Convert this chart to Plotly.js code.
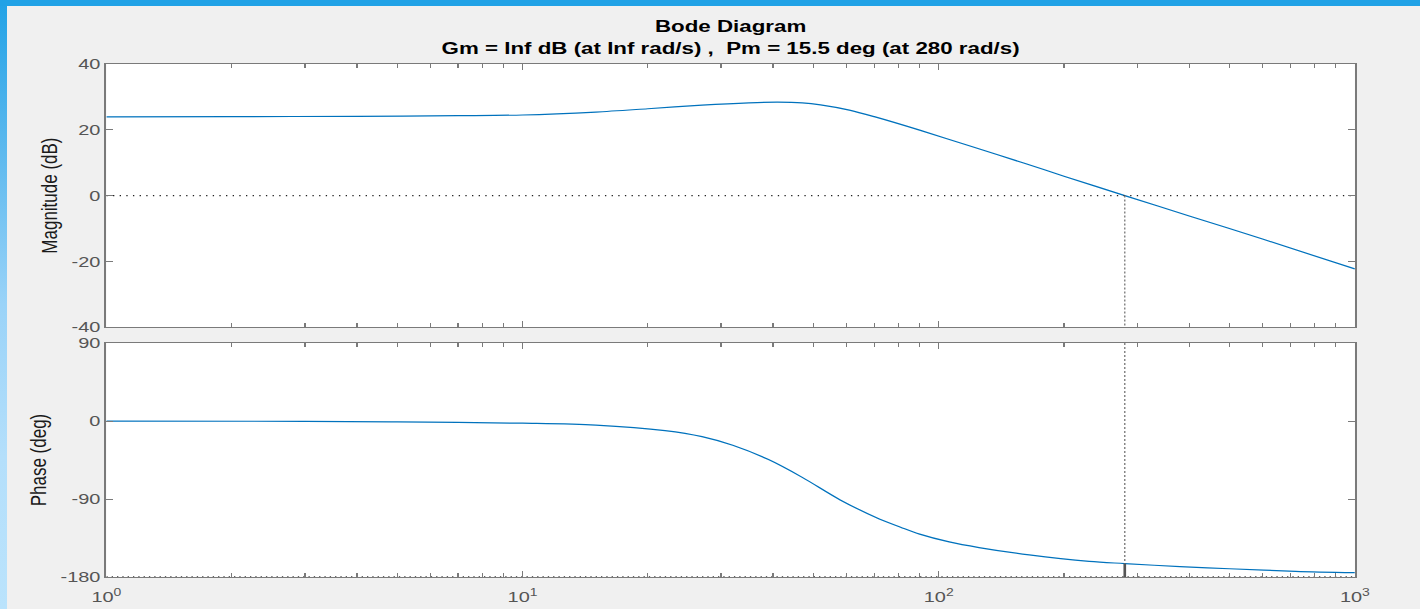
<!DOCTYPE html>
<html><head><meta charset="utf-8">
<script src="https://cdn.plot.ly/plotly-3.0.1.min.js"></script>
<style>
html,body{margin:0;padding:0;background:#f0f0f0;overflow:hidden;width:1420px;height:609px;}
#wrap{position:absolute;left:0;top:0;width:1068px;height:609px;transform:scaleX(1.32959);transform-origin:0 0;}
#chart{width:1068px;height:609px;}
#topbar{position:absolute;left:0;top:0;width:1420px;height:6px;background:#21a2e6;}
#leftbar{position:absolute;left:0;top:0;width:7px;height:609px;background:linear-gradient(#21a2e6 0%,#5db9ee 25%,#9ad3f8 50%,#b4dffb 75%,#bae3fc 100%);}
</style></head>
<body>
<div id="wrap"><div id="chart"></div></div>
<div id="leftbar"></div><div id="topbar"></div>
<script>
// Magnitude response (rad/s, dB)
const magFreq = [1, 2, 4, 7, 10, 15, 20, 27, 35, 41, 47, 52, 61, 70, 90, 120, 160, 200, 280, 400, 600, 1000];
const magDb   = [23.9, 24.0, 24.1, 24.3, 24.5, 25.4, 26.4, 27.5, 28.2, 28.4, 28.2, 27.6, 26.0, 24.0, 19.9, 14.9, 9.9, 5.9, 0, -6.2, -13.2, -22.3];
// Phase response (rad/s, deg)
const phaseFreq = [1, 3, 5, 10, 15, 22, 27, 32, 39, 47, 58, 72, 81, 90, 106, 125, 165, 230, 280, 380, 500, 720, 1000];
const phaseDeg  = [0, -0.3, -1, -2.5, -4.6, -11, -18, -28, -44.5, -65, -91, -113, -122.5, -130.5, -139.5, -146, -154.5, -162, -164.5, -168, -170.5, -173.4, -175];
// Margins
const crossoverFreq = 280;
const phaseMargin = 15.5;
const freqRange = [1, 1000];
// Ticks
const decadeTicks = [1, 10, 100, 1000];
const decadeLabels = ['10<sup>0</sup>', '10<sup>1</sup>', '10<sup>2</sup>', '10<sup>3</sup>'];
const minorDigits = [2, 3, 4, 5, 6, 7, 8, 9];
const magTicks = [-40, -20, 0, 20, 40];
const magLabels = ['-40', '-20', '0', '20', '40'];
const phaseTicks = [-180, -90, 0, 90];
const phaseLabels = ['-180', '-90', '0', '90'];

const minorTicks = [];
decadeTicks.slice(0, 3).forEach(d => minorDigits.forEach(k => minorTicks.push(d * k)));

const blue = '#0072BD';
const axisColor = '#7a7a7a';
const font = 'Liberation Sans, Arial, Helvetica, sans-serif';

const traces = [
  {x: magFreq, y: magDb, xaxis: 'x', yaxis: 'y', mode: 'lines',
   line: {color: blue, width: 1.2, shape: 'spline', smoothing: 0.8}},
  {x: freqRange, y: [0, 0], xaxis: 'x', yaxis: 'y', mode: 'lines',
   line: {color: '#222', width: 1.2, dash: '1px,4px'}},
  {x: [crossoverFreq, crossoverFreq], y: [0, -40], xaxis: 'x', yaxis: 'y', mode: 'lines',
   line: {color: '#777', width: 1, dash: '2px,2px'}},
  {x: phaseFreq, y: phaseDeg, xaxis: 'x2', yaxis: 'y2', mode: 'lines',
   line: {color: blue, width: 1.2, shape: 'spline', smoothing: 0.9}},
  {x: freqRange, y: [-180, -180], xaxis: 'x2', yaxis: 'y2', mode: 'lines',
   line: {color: '#333', width: 1.5, dash: '1px,3px'}},
  {x: [crossoverFreq, crossoverFreq], y: [90, -180 + phaseMargin], xaxis: 'x2', yaxis: 'y2', mode: 'lines',
   line: {color: '#777', width: 1, dash: '2px,2px'}},
  {x: [crossoverFreq, crossoverFreq], y: [-180 + phaseMargin, -180], xaxis: 'x2', yaxis: 'y2', mode: 'lines',
   line: {color: '#555', width: 2}}
];

const xCommon = {
  type: 'log', range: [0, 3], showgrid: false, zeroline: false,
  showline: true, linecolor: axisColor, linewidth: 1, mirror: 'ticks',
  ticks: 'inside', ticklen: 6, tickcolor: axisColor, tickwidth: 1,
  tickmode: 'array', tickvals: decadeTicks, ticktext: decadeLabels,
  minor: {tickmode: 'array', tickvals: minorTicks, ticks: 'inside', ticklen: 4, tickcolor: axisColor, tickwidth: 1, showgrid: false},
  tickfont: {family: font, size: 15, color: '#555'}
};
const yCommon = {
  showgrid: false, zeroline: false, showline: true, linecolor: axisColor, linewidth: 1.5,
  mirror: 'ticks', ticks: 'inside', ticklen: 5, tickcolor: axisColor, tickwidth: 1,
  tickmode: 'array', tickfont: {family: font, size: 15, color: '#555'}
};

const layout = {
  width: 1068, height: 609,
  paper_bgcolor: '#f0f0f0', plot_bgcolor: '#ffffff',
  margin: {l: 80, r: 49, t: 64, b: 32},
  showlegend: false,
  title: {
    text: '<b>Bode Diagram</b><br><b>Gm = Inf dB (at Inf rad/s) ,&nbsp; Pm = 15.5 deg (at 280 rad/s)</b>',
    x: 0.5, xref: 'paper', xanchor: 'center', y: 0.948, yref: 'container', yanchor: 'top',
    font: {family: font, size: 16.8, color: '#000'}
  },
  xaxis: Object.assign({}, xCommon, {domain: [0, 1], anchor: 'y', showticklabels: false, matches: 'x2'}),
  xaxis2: Object.assign({}, xCommon, {domain: [0, 1], anchor: 'y2', ticklabelstandoff: 6}),
  yaxis: Object.assign({}, yCommon, {domain: [0.487, 1], anchor: 'x', range: [-40, 40], tickvals: magTicks, ticktext: magLabels,
    title: {text: 'Magnitude (dB)', font: {family: font, size: 17, color: '#1a1a1a'}, standoff: 6}}),
  yaxis2: Object.assign({}, yCommon, {domain: [0, 0.456], anchor: 'x2', range: [-180, 90], tickvals: phaseTicks, ticktext: phaseLabels,
    title: {text: 'Phase (deg)', font: {family: font, size: 17, color: '#1a1a1a'}, standoff: 6}})
};

Plotly.newPlot('chart', traces, layout, {displayModeBar: false, staticPlot: true});
</script>
</body></html>
